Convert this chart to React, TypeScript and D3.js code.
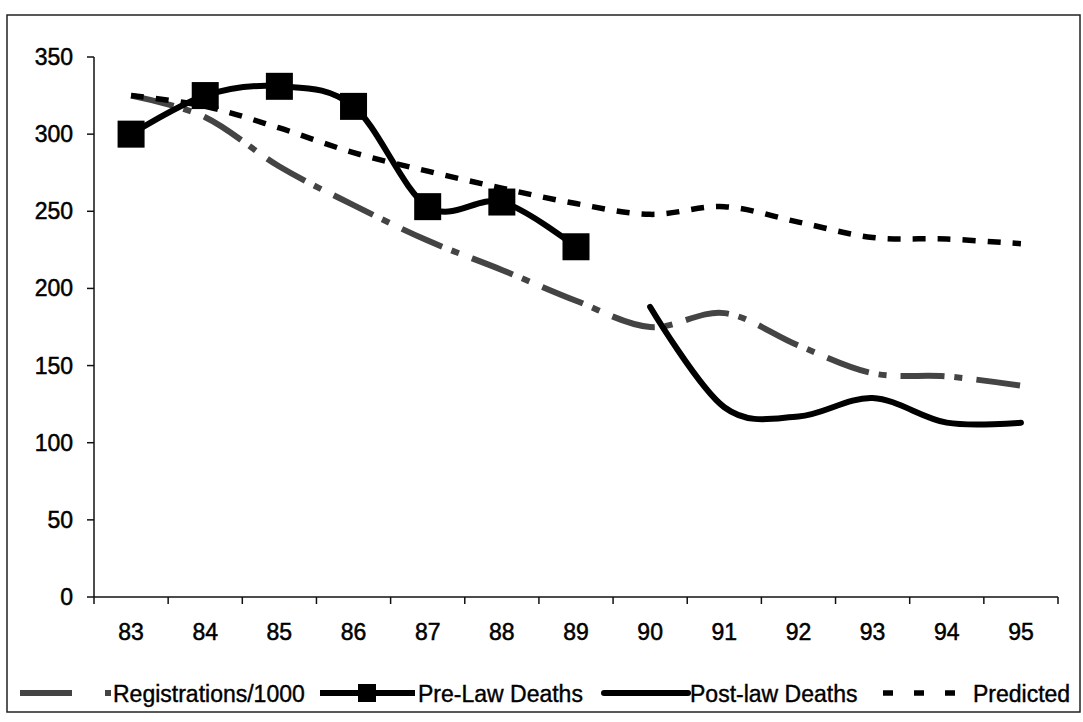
import React, { useRef, useEffect } from 'react'
import * as d3 from 'd3'

// values
const years = ['83', '84', '85', '86', '87', '88', '89', '90', '91', '92', '93', '94', '95']
const registrations = [325, 311, 279, 254, 231, 212, 192, 175, 184, 163, 145, 143, 137]
const preLawYears = ['83', '84', '85', '86', '87', '88', '89']
const preLaw = [300, 325, 331, 318, 253, 256, 227]
const postLawYears = ['90', '91', '92', '93', '94', '95']
const postLaw = [188, 123, 117, 129, 113, 113]
const predicted = [325, 318, 304, 288, 276, 265, 255, 248, 253, 243, 233, 232, 229]
const yTicks = [0, 50, 100, 150, 200, 250, 300, 350]

const FONT = '"Liberation Sans", Arial, sans-serif'

function Chart() {
  const svgRef = useRef<SVGSVGElement>(null)

  useEffect(() => {
    const svg = d3.select(svgRef.current)
    svg.selectAll('*').remove()

    const left = 94
    const right = 1058
    const top = 57
    const bottom = 597

    const x = d3.scaleBand().domain(years).range([left, right])
    const cx = (k: string) => (x(k) as number) + x.bandwidth() / 2
    const y = d3.scaleLinear().domain([0, 350]).range([bottom, top])

    // frame
    svg.append('rect')
      .attr('x', 7).attr('y', 15).attr('width', 1073).attr('height', 697)
      .attr('fill', 'white').attr('stroke', '#222').attr('stroke-width', 1.5)

    // y axis
    svg.append('line')
      .attr('x1', left).attr('x2', left).attr('y1', top).attr('y2', bottom)
      .attr('stroke', '#111').attr('stroke-width', 1.5)
    const yg = svg.append('g')
    yg.selectAll('line').data(yTicks).enter().append('line')
      .attr('x1', left - 7).attr('x2', left)
      .attr('y1', d => y(d)).attr('y2', d => y(d))
      .attr('stroke', '#111').attr('stroke-width', 1.5)
    yg.selectAll('text').data(yTicks).enter().append('text')
      .attr('x', 73).attr('y', d => y(d) + 8)
      .attr('text-anchor', 'end')
      .attr('font-family', FONT).attr('font-size', 23)
      .attr('stroke', '#000').attr('stroke-width', 0.5)
      .text(d => d)

    // x axis
    svg.append('line')
      .attr('x1', left).attr('x2', right).attr('y1', bottom).attr('y2', bottom)
      .attr('stroke', '#111').attr('stroke-width', 1.5)
    const xEdges = years.map(k => x(k) as number).concat([right])
    svg.append('g').selectAll('line').data(xEdges).enter().append('line')
      .attr('x1', d => d).attr('x2', d => d)
      .attr('y1', bottom).attr('y2', bottom + 7)
      .attr('stroke', '#111').attr('stroke-width', 1.5)
    svg.append('g').selectAll('text').data(years).enter().append('text')
      .attr('x', d => cx(d)).attr('y', 640)
      .attr('text-anchor', 'middle')
      .attr('font-family', FONT).attr('font-size', 23)
      .attr('stroke', '#000').attr('stroke-width', 0.5)
      .text(d => d)

    const smooth = d3.curveCardinal.tension(0)
    const line = d3.line<[string, number]>()
      .x(d => cx(d[0]))
      .y(d => y(d[1]))
      .curve(smooth)

    const regPts = years.map((k, i) => [k, registrations[i]] as [string, number])
    const prePts = preLawYears.map((k, i) => [k, preLaw[i]] as [string, number])
    const postPts = postLawYears.map((k, i) => [k, postLaw[i]] as [string, number])
    const predPts = years.map((k, i) => [k, predicted[i]] as [string, number])

    const plot = svg.append('g')

    plot.append('path')
      .attr('d', line(regPts))
      .attr('fill', 'none')
      .attr('stroke', '#444').attr('stroke-width', 6)
      .attr('stroke-dasharray', '44 10 8 14')

    plot.append('path')
      .attr('d', line(prePts))
      .attr('fill', 'none')
      .attr('stroke', '#000').attr('stroke-width', 6)
      .attr('stroke-linejoin', 'round')

    plot.selectAll('rect.mk').data(prePts).enter().append('rect')
      .attr('class', 'mk')
      .attr('x', d => cx(d[0]) - 13.5).attr('y', d => y(d[1]) - 13.5)
      .attr('width', 27).attr('height', 27)
      .attr('fill', '#000')

    plot.append('path')
      .attr('d', line(postPts))
      .attr('fill', 'none')
      .attr('stroke', '#000').attr('stroke-width', 6)
      .attr('stroke-linecap', 'round')

    plot.append('path')
      .attr('d', line(predPts))
      .attr('fill', 'none')
      .attr('stroke', '#000').attr('stroke-width', 5.5)
      .attr('stroke-dasharray', '13 12')

    // legend
    const ly = 693
    const lg = svg.append('g')
    lg.append('line')
      .attr('x1', 20).attr('x2', 72).attr('y1', ly).attr('y2', ly)
      .attr('stroke', '#444').attr('stroke-width', 6)
    lg.append('rect')
      .attr('x', 105).attr('y', ly - 3).attr('width', 6).attr('height', 6)
      .attr('fill', '#444')
    lg.append('line')
      .attr('x1', 320).attr('x2', 415).attr('y1', ly).attr('y2', ly)
      .attr('stroke', '#000').attr('stroke-width', 6)
    lg.append('rect')
      .attr('x', 358).attr('y', ly - 9).attr('width', 18).attr('height', 18)
      .attr('fill', '#000')
    lg.append('line')
      .attr('x1', 604).attr('x2', 688).attr('y1', ly).attr('y2', ly)
      .attr('stroke', '#000').attr('stroke-width', 6)
      .attr('stroke-linecap', 'round')
    lg.append('line')
      .attr('x1', 883).attr('x2', 956).attr('y1', ly).attr('y2', ly)
      .attr('stroke', '#000').attr('stroke-width', 5.5)
      .attr('stroke-dasharray', '10 21')

    const labels: [number, string][] = [
      [113, 'Registrations/1000'],
      [418, 'Pre-Law Deaths'],
      [690, 'Post-law Deaths'],
      [973, 'Predicted'],
    ]
    lg.selectAll('text').data(labels).enter().append('text')
      .attr('x', d => d[0]).attr('y', ly + 9)
      .attr('font-family', FONT).attr('font-size', 23)
      .attr('stroke', '#000').attr('stroke-width', 0.4)
      .text(d => d[1])
  }, [])

  return (
    <svg
      ref={svgRef}
      width={1083}
      height={722}
      style={{ position: 'absolute', left: 0, top: 0, background: 'white' }}
    ></svg>
  )
}

export default function App() {
  return <Chart />
}
